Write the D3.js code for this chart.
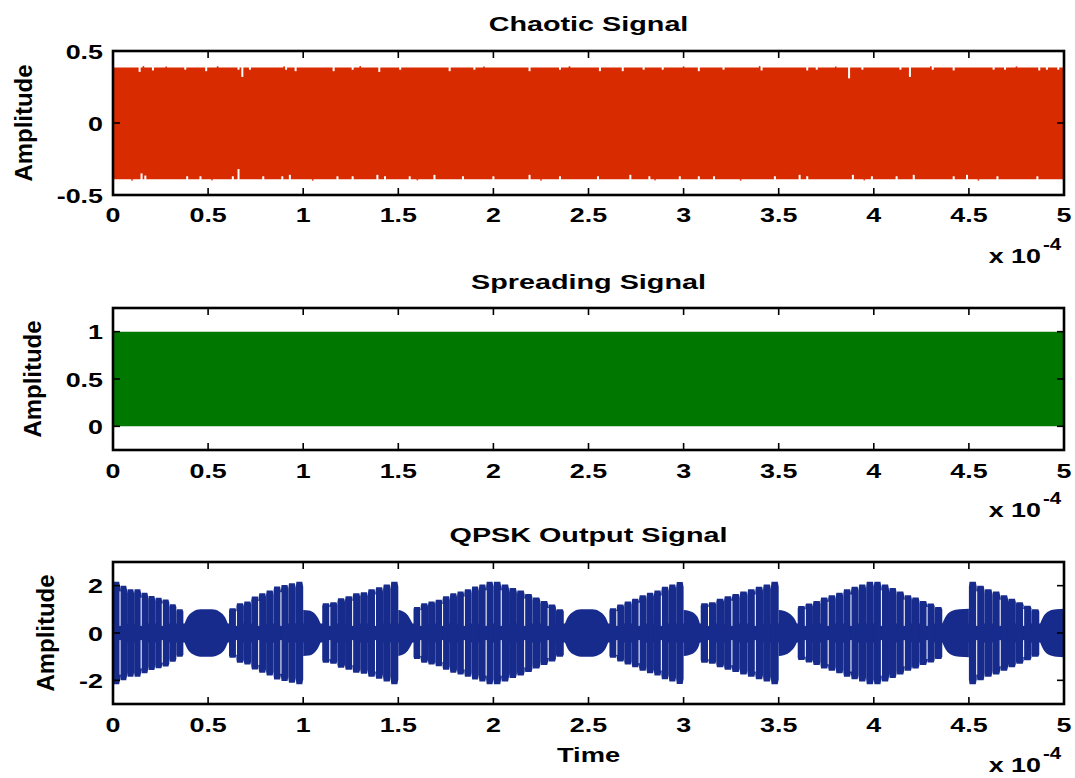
<!DOCTYPE html>
<html><head><meta charset="utf-8">
<script src="https://cdn.jsdelivr.net/npm/d3@7"></script>
<style>body{margin:0;background:#fff}</style>
</head><body>
<svg id="c" width="1075" height="778"></svg>
<script>
// ---------------- data ----------------
const xTicks = [0, 0.5, 1, 1.5, 2, 2.5, 3, 3.5, 4, 4.5, 5];
const xTickLabels = ["0", "0.5", "1", "1.5", "2", "2.5", "3", "3.5", "4", "4.5", "5"];
const titles = ["Chaotic Signal", "Spreading Signal", "QPSK Output Signal"];
const yLabel = "Amplitude";
const xLabel = "Time";
const chaoticYTicks = [-0.5, 0, 0.5];
const chaoticYLabels = ["-0.5", "0", "0.5"];
const spreadYTicks = [0, 0.5, 1];
const spreadYLabels = ["0", "0.5", "1"];
const qpskYTicks = [-2, 0, 2];
const qpskYLabels = ["-2", "0", "2"];

// chaotic signal: band limits and dropouts [time(x1e-4), amplitude reached]
const chaoticUpper = 0.385;
const chaoticLower = -0.39;
const chaoticTopNotches = [[0.14,0.355],[0.21,0.365],[0.38,0.37],[0.49,0.36],[0.66,0.37],[0.68,0.32],[0.72,0.37],
  [0.91,0.37],[0.96,0.36],[1.16,0.36],[1.26,0.37],[1.40,0.355],[1.51,0.37],[1.77,0.36],[1.90,0.37],[2.19,0.36],
  [2.35,0.37],[2.56,0.36],[2.68,0.36],[2.79,0.37],[2.89,0.37],[3.08,0.36],[3.21,0.37],[3.41,0.365],[3.65,0.365],
  [3.70,0.37],[3.87,0.31],[3.94,0.37],[4.14,0.37],[4.19,0.32],[4.31,0.37],[4.42,0.365],[4.63,0.37],[4.69,0.37],
  [4.87,0.365],[4.91,0.37],[4.97,0.37]];
const chaoticBottomNotches = [[0.15,-0.35],[0.17,-0.365],[0.39,-0.37],[0.46,-0.37],[0.63,-0.37],[0.66,-0.32],
  [0.79,-0.37],[0.89,-0.37],[0.93,-0.36],[1.18,-0.37],[1.26,-0.37],[1.39,-0.36],[1.43,-0.37],[1.56,-0.37],[1.69,-0.36],
  [1.84,-0.37],[2.00,-0.37],[2.19,-0.36],[2.35,-0.37],[2.55,-0.37],[2.72,-0.36],[2.82,-0.37],[2.98,-0.37],[3.08,-0.37],
  [3.16,-0.37],[3.48,-0.37],[3.61,-0.36],[3.65,-0.37],[3.89,-0.36],[3.99,-0.37],[4.12,-0.37],[4.21,-0.36],
  [4.42,-0.37],[4.49,-0.36],[4.65,-0.37],[4.86,-0.37]];
// small overshoots beyond the band [time, amplitude]
const chaoticSpikes = [[0.16,0.395],[0.28,0.392],[0.55,0.394],[0.9,0.393],[1.3,0.395],[1.95,0.392],[2.4,0.394],
  [3.0,0.393],[3.4,0.395],[3.8,0.392],[4.3,0.394],[4.75,0.393],
  [0.1,-0.40],[0.52,-0.398],[1.05,-0.40],[1.6,-0.398],[2.25,-0.40],[2.85,-0.398],[3.3,-0.40],[3.95,-0.398],[4.55,-0.40]];

// spreading signal: switches between these two levels
const spreadLevels = [0, 1];

// QPSK output: envelope bursts (start, end, amplitude of each carrier lobe)
const qpskSegStart = [0.00, 0.61, 1.10, 1.58, 2.00, 2.61, 3.09, 3.60, 4.00, 4.50];
const qpskSegEnd   = [0.37, 1.00, 1.50, 2.00, 2.37, 3.00, 3.50, 4.00, 4.36, 4.87];
const qpskSegAmps = [
  [2.17, 2.0, 1.85, 1.85, 1.7, 1.56, 1.49, 1.42, 1.21, 1.0],
  [1.05, 1.26, 1.33, 1.54, 1.68, 1.8, 1.96, 2.03, 2.1, 2.17],
  [1.26, 1.3, 1.47, 1.55, 1.68, 1.72, 1.85, 1.93, 2.05, 2.17],
  [1.1, 1.26, 1.33, 1.4, 1.55, 1.68, 1.75, 1.85, 1.96, 2.05, 2.17],
  [2.17, 2.05, 1.9, 1.8, 1.65, 1.5, 1.35, 1.2, 1.0],
  [1.05, 1.2, 1.33, 1.45, 1.6, 1.7, 1.8, 1.95, 2.05, 2.15],
  [1.26, 1.3, 1.45, 1.55, 1.65, 1.75, 1.85, 1.95, 2.05, 2.17],
  [1.14, 1.25, 1.35, 1.5, 1.6, 1.7, 1.85, 1.95, 2.05, 2.17],
  [2.17, 2.05, 1.9, 1.75, 1.6, 1.5, 1.35, 1.25, 1.1],
  [2.17, 2.0, 1.85, 1.75, 1.6, 1.45, 1.3, 1.15, 1.0]
];
// smooth lobes [time, amplitude]
const qpskBlobs = [
  [[0.37,0.25],[0.39,0.65],[0.42,0.9],[0.46,1.0],[0.52,1.0],[0.56,0.9],[0.59,0.65],[0.61,0.25]],
  [[1.00,0.97],[1.03,0.95],[1.06,0.82],[1.08,0.6],[1.10,0.2]],
  [[1.50,0.97],[1.52,0.93],[1.55,0.75],[1.58,0.3]],
  [[2.37,0.25],[2.39,0.65],[2.42,0.9],[2.46,1.0],[2.52,1.0],[2.56,0.9],[2.59,0.65],[2.61,0.25]],
  [[3.00,0.97],[3.03,0.93],[3.06,0.8],[3.08,0.55],[3.09,0.25]],
  [[3.50,0.97],[3.53,0.93],[3.56,0.8],[3.59,0.5],[3.60,0.3]],
  [[4.36,0.4],[4.38,0.72],[4.41,0.93],[4.45,1.0],[4.50,1.02]],
  [[4.87,0.3],[4.89,0.68],[4.92,0.92],[4.96,1.0],[5.00,1.02]]
];

// ---------------- layout ----------------
const W = 1075, H = 778;
const X0 = 113, X1 = 1064;
const panels = [
  {top: 51, bottom: 195, domain: [-0.5, 0.5], ticks: chaoticYTicks, labels: chaoticYLabels, ylabX: 24, tickBase: 222, expY: 263},
  {top: 308, bottom: 450, domain: [-0.25, 1.25], ticks: spreadYTicks, labels: spreadYLabels, ylabX: 33, tickBase: 478, expY: 517},
  {top: 562, bottom: 704, domain: [-3, 3], ticks: qpskYTicks, labels: qpskYLabels, ylabX: 46, tickBase: 732, expY: 772}
];
const titleY = [31, 289, 542];
const FONT = "'Liberation Sans', Arial, sans-serif";
const SX = 1.28;
const RED = "#d92b00", GREEN = "#007800", BLUE = "#172b8c";

const svg = d3.select("#c");
svg.append("rect").attr("width", W).attr("height", H).attr("fill", "#fff");
const x = d3.scaleLinear().domain([0, 5]).range([X0, X1]);

function text(g, s, px, py, opts = {}) {
  const {size = 21, sx = SX, sy = 1, anchor = "middle", rot = 0} = opts;
  return g.append("text")
    .attr("transform", `translate(${px},${py}) rotate(${rot}) scale(${sx},${sy})`)
    .attr("text-anchor", anchor)
    .attr("font-family", FONT).attr("font-weight", "bold").attr("font-size", size)
    .attr("fill", "#000").text(s);
}

panels.forEach((p, i) => {
  const y = d3.scaleLinear().domain(p.domain).range([p.bottom, p.top]);
  const g = svg.append("g");
  const clipId = "clip" + i;
  svg.append("clipPath").attr("id", clipId).append("rect")
    .attr("x", X0).attr("y", p.top).attr("width", X1 - X0).attr("height", p.bottom - p.top);
  const data = g.append("g").attr("clip-path", `url(#${clipId})`);

  if (i === 0) {
    data.append("path")
      .attr("d", d3.area().x(d => x(d)).y0(y(chaoticLower)).y1(y(chaoticUpper))([0, 5]))
      .attr("fill", RED);
    data.selectAll(".sp").data(chaoticSpikes).join("rect")
      .attr("x", d => x(d[0]) - 0.8).attr("width", 1.6)
      .attr("y", d => d[1] > 0 ? y(d[1]) : y(chaoticLower))
      .attr("height", d => d[1] > 0 ? y(chaoticUpper) - y(d[1]) + 1 : y(d[1]) - y(chaoticLower))
      .attr("fill", RED);
    data.selectAll(".nt").data(chaoticTopNotches).join("rect")
      .attr("x", d => x(d[0]) - 1).attr("width", 2)
      .attr("y", y(chaoticUpper) - 1).attr("height", d => y(d[1]) - y(chaoticUpper) + 1)
      .attr("fill", "#fff");
    data.selectAll(".nb").data(chaoticBottomNotches).join("rect")
      .attr("x", d => x(d[0]) - 1).attr("width", 2)
      .attr("y", d => y(d[1])).attr("height", d => y(chaoticLower) - y(d[1]) + 1)
      .attr("fill", "#fff");
  } else if (i === 1) {
    data.append("path")
      .attr("d", d3.area().x(d => x(d)).y0(y(spreadLevels[0])).y1(y(spreadLevels[1]))([0, 5]))
      .attr("fill", GREEN);
  } else {
    const lobeArea = d3.area().x(d => x(d[0])).y0(d => y(-d[1])).y1(d => y(d[1])).curve(d3.curveMonotoneX);
    const barArea = d3.area().x(d => x(d[0])).y0(d => y(-d[1])).y1(d => y(d[1]));
    // core band connecting everything
    data.append("path")
      .attr("d", d3.area().x(d => x(d)).y0(y(-0.4)).y1(y(0.4))([0, 5]))
      .attr("fill", BLUE);
    qpskSegAmps.forEach((amps, k) => {
      const t0 = qpskSegStart[k], t1 = qpskSegEnd[k];
      const w = (t1 - t0) / amps.length;
      amps.forEach((a, j) => {
        const s = t0 + j * w, e = s + w;
        const pts = [[s, 0.9 * a], [s + 0.08 * w, a], [e - 0.12 * w, a], [e, 0.9 * a]];
        data.append("path").attr("d", barArea(pts)).attr("fill", BLUE);
      });
      // thin gaps between some lobes
      amps.forEach((a, j) => {
        if (j === 0 || j % 3 !== 1) return;
        const s = t0 + j * w;
        const m = Math.min(a, amps[j - 1]) * 0.88;
        data.append("rect").attr("x", x(s) - 0.5).attr("width", 1)
          .attr("y", y(m)).attr("height", y(0.3) - y(m)).attr("fill", "#fff");
        data.append("rect").attr("x", x(s) - 0.5).attr("width", 1)
          .attr("y", y(-0.3)).attr("height", y(-m) - y(-0.3)).attr("fill", "#fff");
      });
    });
    qpskBlobs.forEach(b => {
      data.append("path").attr("d", lobeArea(b)).attr("fill", BLUE);
    });
  }

  // ticks (inward, on all sides)
  const tk = g.append("g").attr("stroke", "#000").attr("stroke-width", 1.6);
  xTicks.forEach(t => {
    tk.append("line").attr("x1", x(t)).attr("x2", x(t)).attr("y1", p.bottom).attr("y2", p.bottom - 7);
    tk.append("line").attr("x1", x(t)).attr("x2", x(t)).attr("y1", p.top).attr("y2", p.top + 7);
  });
  p.ticks.forEach(v => {
    tk.append("line").attr("x1", X0).attr("x2", X0 + 7).attr("y1", y(v)).attr("y2", y(v));
    tk.append("line").attr("x1", X1).attr("x2", X1 - 7).attr("y1", y(v)).attr("y2", y(v));
  });
  // box
  g.append("rect").attr("x", X0).attr("y", p.top).attr("width", X1 - X0).attr("height", p.bottom - p.top)
    .attr("fill", "none").attr("stroke", "#000").attr("stroke-width", 2.6);

  // tick labels
  xTicks.forEach((t, k) => text(g, xTickLabels[k], x(t), p.tickBase));
  p.ticks.forEach((v, k) => text(g, p.labels[k], 103, y(v) + 7.5, {anchor: "end"}));
  // exponent
  text(g, "x 10", 1041, p.expY, {anchor: "end"});
  text(g, "-4", 1043, p.expY - 13, {anchor: "start", size: 16});
  // y label
  text(g, yLabel, p.ylabX + 8, (p.top + p.bottom) / 2, {rot: -90, sx: 1.14, sy: 1.1});
  // title
  text(g, titles[i], (X0 + X1) / 2, titleY[i], {sx: 1.37});
});
text(svg, xLabel, (X0 + X1) / 2, 762, {sx: 1.3});
</script>
</body></html>
